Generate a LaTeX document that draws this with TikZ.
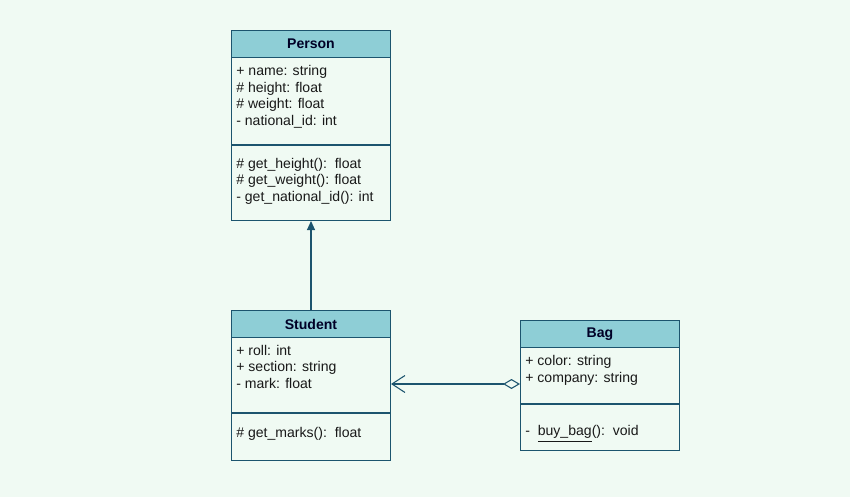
\documentclass[tikz,border=0pt]{standalone}
\usepackage{fontspec}
\setmainfont{Liberation Sans}
\usepackage{tikz}
\usetikzlibrary{arrows.meta, calc}
\definecolor{bgcol}{RGB}{240,250,243}
\definecolor{headcol}{RGB}{142,206,214}
\definecolor{linecol}{RGB}{28,84,110}
\definecolor{txtcol}{RGB}{25,25,25}
\tikzset{
  classbox/.style = {draw = linecol, fill = bgcol, line width = 0.6pt, minimum width = 3.18cm, anchor = north west, inner sep = 0pt},
  classhead/.style = {draw = linecol, fill = headcol, line width = 0.6pt, minimum width = 3.18cm, minimum height = 0.54cm, anchor = north west, inner sep = 0pt, font = \fontsize{8}{9.5}\selectfont\bfseries, text = black!85!blue},
  members/.style = {anchor = base west, align = left, inner sep = 0pt, font = \fontsize{8}{9.5}\selectfont, text = txtcol},
  inherit/.style = {draw = linecol, line width = 0.6pt, -{Triangle[length = 0.18cm, width = 0.16cm]}},
  aggr/.style = {draw = linecol, line width = 0.6pt, {Diamond[open, length = 0.34cm, width = 0.2cm]}-{Straight Barb[length = 0.26cm, width = 0.34cm]}}
}
\begin{document}
\begin{tikzpicture}[x = 0.02cm, y = -0.02cm]
\useasboundingbox (0, 0) rectangle (850, 497);
\fill[bgcol] (0, 0) rectangle (850, 497);

% Person
\node[classbox, minimum height = 3.8cm] (person) at (231, 30) {};
\node[classhead] (personhead) at (person.north west) {Person};
\draw[linecol, line width = 0.6pt] (person.west |- 0, 145) -- (person.east |- 0, 145);
\node[members] (personattr) at (236, 125.5) {+ name: string\\\# height: float\\\# weight: float\\- national\_id: int};
\node[members] (personops) at (236, 201.5) {\# get\_height():\ \ float\\\# get\_weight(): float\\- get\_national\_id(): int};

% Student
\node[classbox, minimum height = 3.0cm] (student) at (231, 310) {};
\node[classhead] (studenthead) at (student.north west) {Student};
\draw[linecol, line width = 0.6pt] (student.west |- 0, 413) -- (student.east |- 0, 413);
\node[members] (studentattr) at (236, 388.5) {+ roll: int\\+ section: string\\- mark: float};
\node[members] (studentops) at (236, 437.5) {\# get\_marks():\ \ float};

% Bag
\node[classbox, minimum height = 2.6cm] (bag) at (520, 320) {};
\node[classhead] (baghead) at (bag.north west) {Bag};
\draw[linecol, line width = 0.6pt] (bag.west |- 0, 404) -- (bag.east |- 0, 404);
\node[members] (bagattr) at (525, 382.5) {+ color: string\\+ company: string};
\node[members] (bagops) at (525, 435.5) {-\ \ \underline{buy\_bag}():\ \ void};

% relations
\draw[inherit] (student.north) -- (person.south);
\draw[aggr] (bag.west |- 0, 384) -- (student.east |- 0, 384);
\end{tikzpicture}
\end{document}
